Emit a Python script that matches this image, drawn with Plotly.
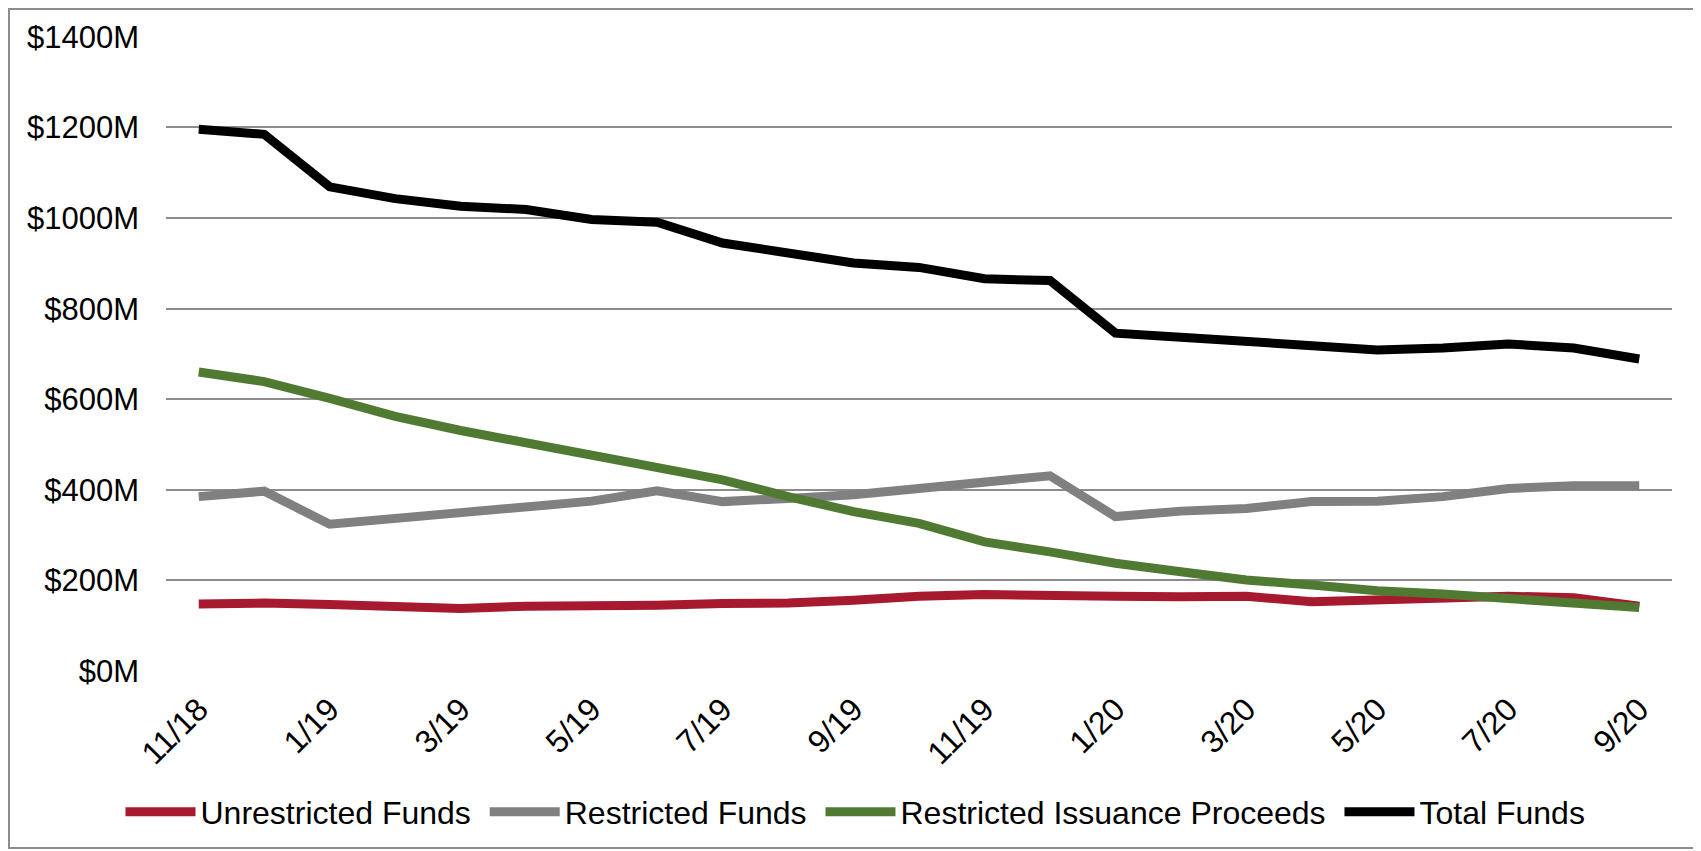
import plotly.graph_objects as go

months = ["11/18", "12/18", "1/19", "2/19", "3/19", "4/19", "5/19", "6/19", "7/19", "8/19",
          "9/19", "10/19", "11/19", "12/19", "1/20", "2/20", "3/20", "4/20", "5/20", "6/20",
          "7/20", "8/20", "9/20"]

unrestricted = [148, 150, 147, 142, 138, 143, 142, 145, 149, 150, 156, 165, 169, 169,
                165, 164, 165, 153, 158, 160, 165, 162, 143]
restricted = [385, 397, 324, 337, 350, 363, 375, 398, 374, 381, 389, 403, 418, 431,
              341, 353, 359, 374, 375, 385, 403, 409, 409]
issuance = [660, 639, 602, 562, 531, 504, 472, 448, 422, 385, 352, 326, 285, 263,
            238, 219, 201, 190, 177, 170, 160, 148, 140]
total = [1196, 1185, 1069, 1043, 1026, 1019, 997, 991, 945, 921, 901, 891, 866, 862,
         746, 737, 728, 719, 709, 713, 722, 713, 689]

y_ticks = [0, 200, 400, 600, 800, 1000, 1200, 1400]
y_labels = [f"${v}M" for v in y_ticks]

# the page body has an 8px margin, so the figure is 8px smaller than the window
W, H = 1693, 843
ml, mr, mt, mb = 158, 29, 28, 180
font = "Liberation Sans, Arial, sans-serif"
pad = "\u00a0"

fig = go.Figure()
series = [
    ("Unrestricted Funds", unrestricted, "#A6192E"),
    ("Restricted Funds", restricted, "#808080"),
    ("Restricted Issuance Proceeds", issuance, "#507A32"),
    ("Total Funds", total, "#000000"),
]
for name, vals, color in series:
    fig.add_trace(go.Scatter(x=months, y=vals, mode="lines", name=name + pad,
                             line=dict(color=color, width=9)))

# outer chart border
pw, ph = W - ml - mr, H - mt - mb
fig.add_shape(type="rect", xref="paper", yref="paper",
              x0=(1 - ml) / pw, x1=(1690 - ml) / pw,
              y0=(H - mb - 840) / ph, y1=(H - mb - 1) / ph,
              line=dict(color="#8C8C8C", width=2), fillcolor="rgba(0,0,0,0)", layer="below")

fig.update_layout(
    width=W, height=H,
    margin=dict(l=ml, r=mr, t=mt, b=mb),
    plot_bgcolor="white", paper_bgcolor="white",
    font=dict(family=font, size=31, color="black"),
    showlegend=True,
    legend=dict(orientation="h", x=852 / W, xref="container", xanchor="center",
                y=39 / H, yref="container", yanchor="middle",
                font=dict(size=32), itemwidth=70, traceorder="normal"),
    xaxis=dict(type="category", range=[-0.5, 22.5], tickvals=months[::2],
               tickangle=-45, showgrid=False, showline=False, ticks="",
               ticklabelstandoff=12, tickfont=dict(size=32), automargin=False),
    yaxis=dict(range=[0, 1402], tickvals=y_ticks, ticktext=y_labels,
               showgrid=True, gridcolor="#8C8C8C", gridwidth=2,
               zeroline=False, showline=False, ticks="",
               ticklabelstandoff=26, tickfont=dict(size=31), automargin=False),
)

fig.write_html("out.html")
